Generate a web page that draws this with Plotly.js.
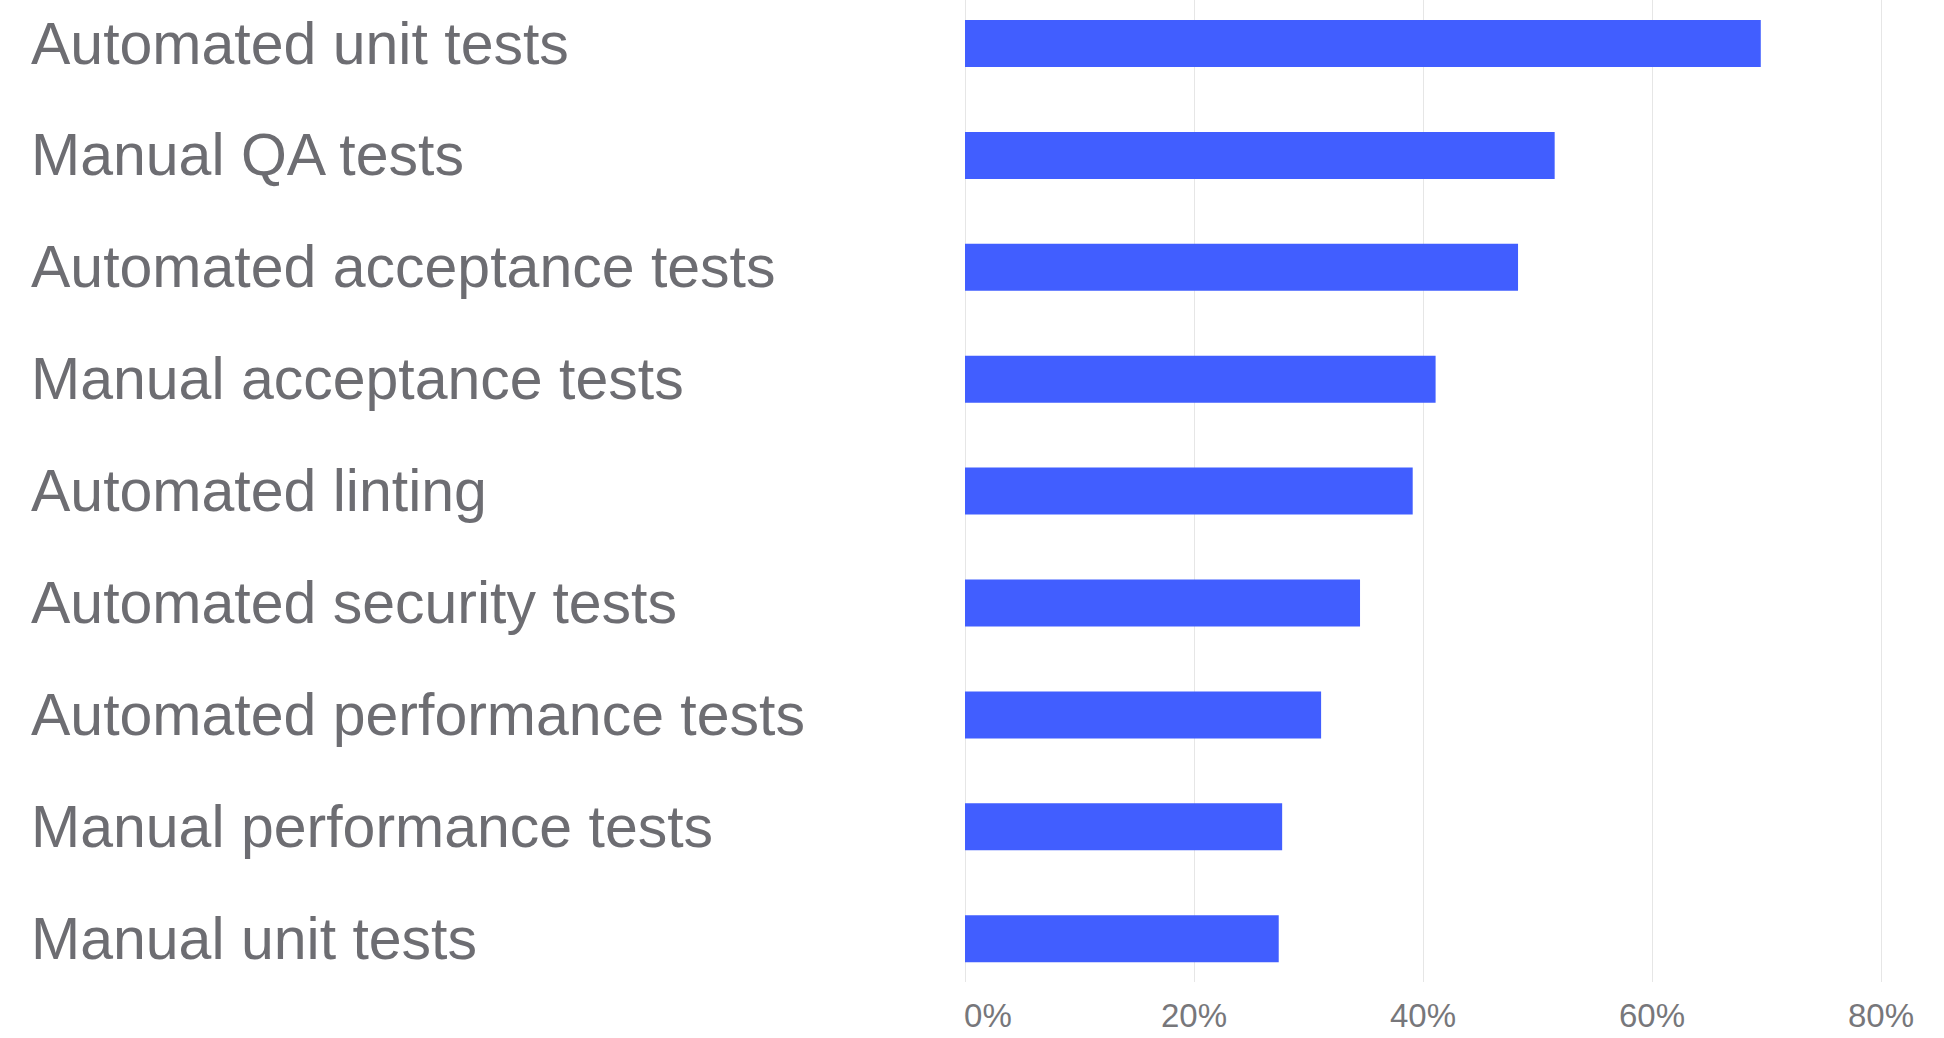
<!DOCTYPE html>
<html>
<head>
<meta charset="utf-8">
<script src="https://cdn.plot.ly/plotly-3.0.1.min.js"></script>
<style>
html,body{margin:0;padding:0;background:#fff;}
#chart{width:1944px;height:1038px;}
</style>
</head>
<body>
<div id="chart"></div>
<script>
const categories = [
  "Automated unit tests",
  "Manual QA tests",
  "Automated acceptance tests",
  "Manual acceptance tests",
  "Automated linting",
  "Automated security tests",
  "Automated performance tests",
  "Manual performance tests",
  "Manual unit tests"
];
const shares = [69.5, 51.5, 48.3, 41.1, 39.1, 34.5, 31.1, 27.7, 27.4];
const tickValues = [0, 20, 40, 60, 80];
const tickLabels = ["0%", "20%", "40%", "60%", "80%"];

const FONT = "Liberation Sans, Arial, sans-serif";
const TEXT_GREY = "#6d6d72";
const BAR_BLUE = "#415EFF";

const trace = {
  type: "bar",
  orientation: "h",
  y: categories,
  x: shares,
  width: 0.42,
  marker: {color: BAR_BLUE, line: {width: 0}},
  hoverinfo: "x+y"
};

const annotations = categories.map(c => ({
  xref: "paper", yref: "y",
  x: (31 - 965) / 959, y: c,
  xanchor: "left", yanchor: "middle",
  text: c,
  showarrow: false,
  align: "left",
  borderpad: 0, borderwidth: 0,
  font: {family: FONT, size: 59, color: TEXT_GREY}
}));

const layout = {
  width: 1944, height: 1038,
  margin: {l: 965, r: 20, t: 0, b: 56, pad: 0},
  paper_bgcolor: "#ffffff",
  plot_bgcolor: "#ffffff",
  showlegend: false,
  xaxis: {
    range: [0, 959 / 11.45],
    tickvals: tickValues,
    ticktext: tickLabels.map((t, i) => i === 0 ? "\u00a0\u00a0\u00a0\u00a0\u00a0" + t : t),
    ticks: "",
    ticklabelshift: 3.5,
    ticklabelstandoff: 11,
    showgrid: true,
    gridcolor: "#e6e6e6",
    gridwidth: 1,
    zeroline: true,
    zerolinecolor: "#e6e6e6",
    zerolinewidth: 1,
    showline: false,
    tickfont: {family: FONT, size: 33, color: "#77777b"},
    fixedrange: true
  },
  yaxis: {
    type: "category",
    categoryorder: "array",
    categoryarray: categories,
    range: [8.387, -0.389],
    showticklabels: false,
    ticks: "",
    showgrid: false,
    zeroline: false,
    showline: false,
    fixedrange: true
  },
  annotations: annotations,
  bargap: 0.58
};

Plotly.newPlot("chart", [trace], layout, {displayModeBar: false, staticPlot: true});
</script>
</body>
</html>
